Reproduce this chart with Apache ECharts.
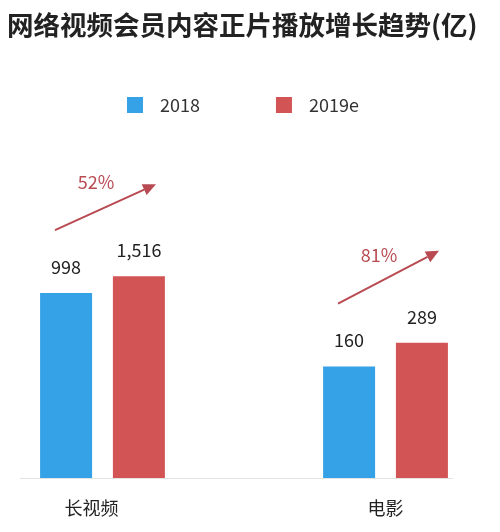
<!DOCTYPE html>
<html>
<head>
<meta charset="utf-8">
<script src="https://cdn.jsdelivr.net/npm/echarts@6/dist/echarts.min.js"></script>
<style>
html,body{margin:0;padding:0;background:#fff;}
#c{width:500px;height:532px;}
</style>
</head>
<body>
<div id="c"></div>
<script>
const categories = ['长视频', '电影'];
const legendNames = ['2018', '2019e'];
const values2018 = [998, 160];
const values2019 = [1516, 289];

const FONT = '"Noto Sans CJK SC", "Noto Sans", sans-serif';
const BLUE = '#35a1e6';
const RED = '#d35454';
const ARROW = '#b94a52';

const chart = echarts.init(document.getElementById('c'), null, {renderer: 'canvas'});

const fmt = v => Number(v).toLocaleString('en-US');

chart.setOption({
  animation: false,
  backgroundColor: '#fff',
  title: {
    text: '网络视频会员内容正片播放增长趋势(亿)',
    left: 2, top: 7,
    textStyle: {fontFamily: FONT, fontSize: 26.5, fontWeight: 'bold', color: '#222'}
  },
  legend: {
    data: legendNames,
    left: 122, top: 91,
    icon: 'rect',
    itemWidth: 16, itemHeight: 16,
    itemGap: 76,
    textStyle: {fontFamily: FONT, fontSize: 18, color: '#333', padding: [0, 0, 0, 12]}
  },
  grid: {left: 20, right: 47, top: 200.5, bottom: 54},
  xAxis: {
    type: 'value',
    min: -0.2915, max: 1.2385,
    axisLine: {show: true, lineStyle: {color: '#e3e3e3', width: 1}},
    axisTick: {show: false},
    splitLine: {show: false},
    axisLabel: {
      customValues: [0, 1],
      margin: 21,
      formatter: v => v === 0 ? '{a|' + categories[0] + '}' : '{b|' + categories[1] + '}',
      rich: {
        a: {fontFamily: FONT, fontSize: 18, color: '#222', padding: [0, 22, 0, 0]},
        b: {fontFamily: FONT, fontSize: 18, color: '#222'}
      }
    }
  },
  yAxis: {
    type: 'log', logBase: 10, min: 10, max: 10000,
    show: false, splitLine: {show: false}
  },
  series: [
    {
      name: legendNames[0], type: 'bar', barWidth: 52, barGap: '40%',
      itemStyle: {color: BLUE},
      label: {show: true, position: 'top', distance: 17, formatter: p => fmt(p.value[1]),
        fontFamily: FONT, fontSize: 18, color: '#222'},
      data: values2018.map((v, i) => [i, v])
    },
    {
      name: legendNames[1], type: 'bar', barWidth: 52, barGap: '40%',
      itemStyle: {color: RED},
      label: {show: true, position: 'top', distance: 17, formatter: p => fmt(p.value[1]),
        fontFamily: FONT, fontSize: 18, color: '#222'},
      data: values2019.map((v, i) => [i, v])
    }
  ]
});

// growth arrows computed from the data via the chart's scales
const graphics = [];
categories.forEach((c, i) => {
  const p0 = chart.convertToPixel({seriesIndex: 0}, [i, values2018[i]]);
  const p1 = chart.convertToPixel({seriesIndex: 1}, [i, values2019[i]]);
  const x0 = p0[0] - 36.5 - 11, y0 = p0[1] - 63;
  const x1 = p1[0] + 36.5 + 17, y1 = p1[1] - 92;
  const ang = Math.atan2(y1 - y0, x1 - x0);
  const hl = 13, hw = 6;
  const bx = x1 - hl * Math.cos(ang), by = y1 - hl * Math.sin(ang);
  graphics.push({
    type: 'line', silent: true,
    shape: {x1: x0, y1: y0, x2: bx, y2: by},
    style: {stroke: ARROW, lineWidth: 2}
  });
  graphics.push({
    type: 'polygon', silent: true,
    shape: {points: [
      [x1, y1],
      [bx + hw * Math.sin(ang), by - hw * Math.cos(ang)],
      [bx - hw * Math.sin(ang), by + hw * Math.cos(ang)]
    ]},
    style: {fill: ARROW}
  });
  const pct = Math.round((values2019[i] / values2018[i] - 1) * 100) + '%';
  graphics.push({
    type: 'text', silent: true,
    x: x0 + 41, y: y0 - 48,
    style: {text: pct, fill: ARROW, font: '18px ' + FONT, align: 'center', verticalAlign: 'middle'}
  });
});
chart.setOption({graphic: graphics});
</script>
</body>
</html>
